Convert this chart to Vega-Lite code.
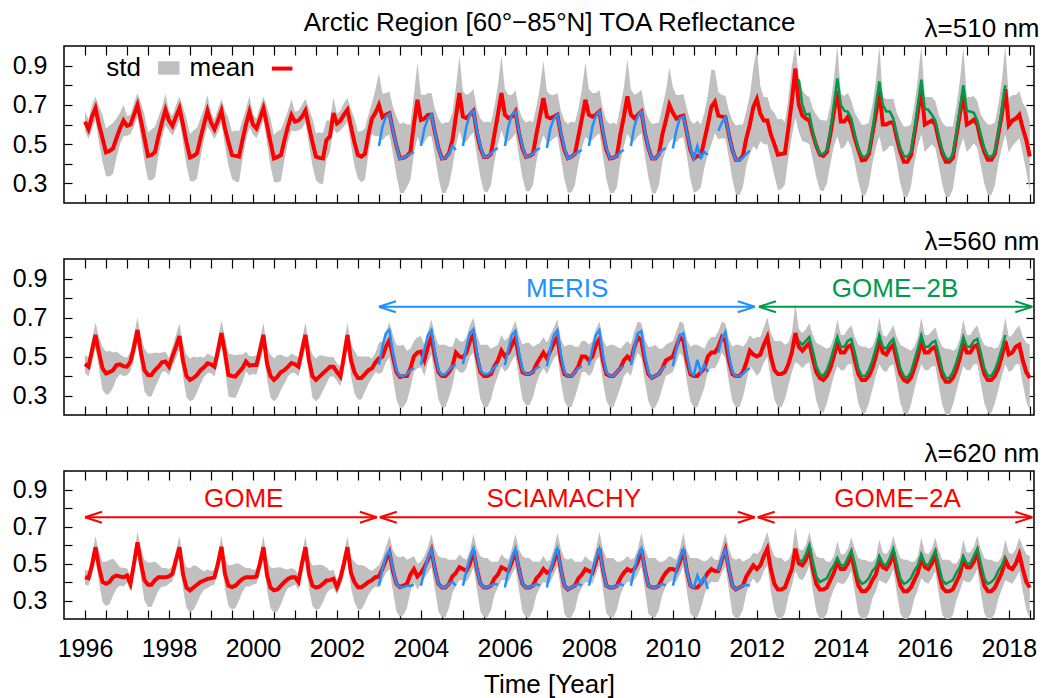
{
"$schema":"https://vega.github.io/schema/vega-lite/v6.json",
"background":"white",
"padding":{"left":11,"top":8,"right":8,"bottom":2},
"config":{"font":"Liberation Sans","view":{"stroke":"#000000","strokeWidth":1.5},
"axis":{"domain":false,"grid":false,"tickColor":"#000000","tickWidth":1.2,"labelFontSize":25,"labelColor":"#000000","titleFontSize":26,"titleFontWeight":"normal","titleColor":"#000000","labelOverlap":false,"labelFlush":false}},
"datasets":{
"main":[
{"t":[1996,1996.083,1996.167,1996.25,1996.333,1996.417,1996.5,1996.583,1996.667,1996.75,1996.833,1996.917],"a":[0.615,0.576,0.64,0.683,0.6,0.53,0.458,0.465,0.478,0.53,0.58,0.62],"sa":[0.05,0.05,0.06,0.06,0.09,0.12,0.12,0.13,0.13,0.1,0.08,0.08],"b":[0.462,0.448,0.53,0.61,0.52,0.44,0.414,0.42,0.43,0.456,0.46,0.45],"sb":[0.045,0.05,0.06,0.065,0.08,0.11,0.11,0.11,0.09,0.07,0.05,0.05],"c":[0.426,0.42,0.49,0.588,0.48,0.4,0.39,0.4,0.426,0.435,0.43,0.426],"sc":[0.04,0.04,0.05,0.06,0.08,0.11,0.12,0.12,0.1,0.07,0.05,0.05]},
{"t":[1997,1997.083,1997.167,1997.25,1997.333,1997.417,1997.5,1997.583,1997.667,1997.75,1997.833,1997.917],"a":[0.593,0.6,0.65,0.7,0.62,0.53,0.44,0.445,0.46,0.54,0.61,0.675],"sa":[0.05,0.05,0.06,0.06,0.09,0.12,0.12,0.13,0.13,0.1,0.08,0.08],"b":[0.448,0.474,0.55,0.636,0.52,0.43,0.405,0.405,0.43,0.448,0.47,0.474],"sb":[0.045,0.05,0.06,0.065,0.08,0.11,0.11,0.11,0.09,0.07,0.05,0.05],"c":[0.435,0.39,0.5,0.615,0.5,0.41,0.385,0.385,0.41,0.426,0.426,0.426],"sc":[0.04,0.04,0.05,0.06,0.08,0.11,0.12,0.12,0.1,0.07,0.05,0.05]},
{"t":[1998,1998.083,1998.167,1998.25,1998.333,1998.417,1998.5,1998.583,1998.667,1998.75,1998.833,1998.917],"a":[0.62,0.593,0.64,0.683,0.6,0.51,0.432,0.44,0.453,0.53,0.6,0.67],"sa":[0.05,0.05,0.06,0.06,0.09,0.12,0.12,0.13,0.13,0.1,0.08,0.08],"b":[0.448,0.5,0.55,0.605,0.48,0.4,0.38,0.39,0.405,0.43,0.445,0.465],"sb":[0.045,0.05,0.06,0.065,0.08,0.11,0.11,0.11,0.09,0.07,0.05,0.05],"c":[0.43,0.444,0.52,0.588,0.444,0.37,0.355,0.37,0.385,0.4,0.408,0.417],"sc":[0.04,0.04,0.05,0.06,0.08,0.11,0.12,0.12,0.1,0.07,0.05,0.05]},
{"t":[1999,1999.083,1999.167,1999.25,1999.333,1999.417,1999.5,1999.583,1999.667,1999.75,1999.833,1999.917],"a":[0.61,0.576,0.62,0.67,0.58,0.51,0.444,0.44,0.436,0.52,0.6,0.666],"sa":[0.05,0.05,0.06,0.06,0.09,0.12,0.12,0.13,0.13,0.1,0.08,0.08],"b":[0.46,0.448,0.53,0.62,0.52,0.405,0.4,0.397,0.42,0.44,0.474,0.453],"sb":[0.045,0.05,0.06,0.065,0.08,0.11,0.11,0.11,0.09,0.07,0.05,0.05],"c":[0.42,0.426,0.5,0.59,0.444,0.38,0.372,0.38,0.4,0.417,0.426,0.426],"sc":[0.04,0.04,0.05,0.06,0.08,0.11,0.12,0.12,0.1,0.07,0.05,0.05]},
{"t":[2000,2000.083,2000.167,2000.25,2000.333,2000.417,2000.5,2000.583,2000.667,2000.75,2000.833,2000.917],"a":[0.6,0.58,0.63,0.683,0.6,0.51,0.427,0.435,0.444,0.52,0.59,0.649],"sa":[0.05,0.05,0.06,0.06,0.09,0.12,0.12,0.13,0.13,0.1,0.08,0.08],"b":[0.456,0.456,0.53,0.61,0.466,0.4,0.38,0.397,0.42,0.43,0.448,0.466],"sb":[0.045,0.05,0.06,0.065,0.08,0.11,0.11,0.11,0.09,0.07,0.05,0.05],"c":[0.426,0.43,0.5,0.588,0.44,0.37,0.355,0.36,0.38,0.4,0.417,0.426],"sc":[0.04,0.04,0.05,0.06,0.08,0.11,0.12,0.12,0.1,0.07,0.05,0.05]},
{"t":[2001,2001.083,2001.167,2001.25,2001.333,2001.417,2001.5,2001.583,2001.667,2001.75,2001.833,2001.917],"a":[0.615,0.62,0.64,0.671,0.59,0.51,0.436,0.43,0.427,0.52,0.54,0.658],"sa":[0.05,0.05,0.06,0.06,0.09,0.12,0.12,0.13,0.13,0.1,0.08,0.08],"b":[0.46,0.448,0.53,0.61,0.483,0.4,0.38,0.397,0.414,0.43,0.448,0.448],"sb":[0.045,0.05,0.06,0.065,0.08,0.11,0.11,0.11,0.09,0.07,0.05,0.05],"c":[0.426,0.4,0.5,0.588,0.444,0.38,0.37,0.375,0.39,0.408,0.41,0.417],"sc":[0.04,0.04,0.05,0.06,0.08,0.11,0.12,0.12,0.1,0.07,0.05,0.05]},
{"t":[2002,2002.083,2002.167,2002.25,2002.333,2002.417,2002.5,2002.583,2002.667,2002.75,2002.833,2002.917],"a":[0.606,0.62,0.65,0.675,0.59,0.51,0.444,0.436,0.45,0.55,0.63,0.66],"sa":[0.05,0.05,0.06,0.06,0.09,0.12,0.12,0.13,0.13,0.1,0.08,0.12],"b":[0.42,0.397,0.5,0.61,0.483,0.42,0.39,0.39,0.41,0.43,0.44,0.47],"sb":[0.045,0.05,0.06,0.065,0.08,0.11,0.11,0.11,0.09,0.07,0.05,0.05],"c":[0.372,0.42,0.5,0.588,0.45,0.4,0.372,0.372,0.385,0.4,0.41,0.426],"sc":[0.04,0.04,0.05,0.06,0.08,0.11,0.12,0.12,0.1,0.07,0.05,0.05]},
{"t":[2003,2003.083,2003.167,2003.25,2003.333,2003.417,2003.5,2003.583,2003.667,2003.75,2003.833,2003.917],"a":[0.7,0.637,0.65,0.658,0.57,0.49,0.427,0.43,0.44,0.46,0.6,0.726],"sa":[0.16,0.12,0.11,0.11,0.12,0.15,0.175,0.18,0.16,0.14,0.15,0.19],"b":[0.49,0.5,0.55,0.585,0.5,0.42,0.395,0.4,0.4,0.44,0.5,0.52],"sb":[0.08,0.08,0.08,0.09,0.11,0.14,0.16,0.16,0.13,0.1,0.08,0.08],"c":[0.43,0.47,0.52,0.56,0.46,0.39,0.372,0.38,0.39,0.44,0.47,0.43],"sc":[0.06,0.06,0.07,0.09,0.11,0.15,0.16,0.16,0.13,0.09,0.07,0.07]},
{"t":[2004,2004.083,2004.167,2004.25,2004.333,2004.417,2004.5,2004.583,2004.667,2004.75,2004.833,2004.917],"a":[0.623,0.63,0.649,0.65,0.56,0.48,0.427,0.43,0.453,0.52,0.64,0.76],"sa":[0.13,0.12,0.11,0.11,0.12,0.15,0.175,0.18,0.16,0.14,0.15,0.19],"b":[0.525,0.48,0.55,0.6,0.5,0.42,0.4,0.4,0.42,0.45,0.52,0.5],"sb":[0.08,0.08,0.08,0.09,0.11,0.14,0.16,0.16,0.13,0.1,0.08,0.08],"c":[0.45,0.48,0.52,0.57,0.47,0.39,0.37,0.37,0.39,0.43,0.45,0.48],"sc":[0.06,0.06,0.07,0.09,0.11,0.15,0.16,0.16,0.13,0.09,0.07,0.07]},
{"t":[2005,2005.083,2005.167,2005.25,2005.333,2005.417,2005.5,2005.583,2005.667,2005.75,2005.833,2005.917],"a":[0.64,0.632,0.65,0.669,0.56,0.48,0.435,0.435,0.45,0.55,0.65,0.76],"sa":[0.13,0.12,0.11,0.11,0.12,0.15,0.175,0.18,0.16,0.14,0.15,0.19],"b":[0.495,0.52,0.58,0.61,0.5,0.42,0.4,0.4,0.41,0.45,0.48,0.53],"sb":[0.08,0.08,0.08,0.09,0.11,0.14,0.16,0.16,0.13,0.1,0.08,0.08],"c":[0.47,0.46,0.5,0.57,0.47,0.39,0.37,0.37,0.38,0.42,0.44,0.48],"sc":[0.06,0.06,0.07,0.09,0.11,0.15,0.16,0.16,0.13,0.09,0.07,0.07]},
{"t":[2006,2006.083,2006.167,2006.25,2006.333,2006.417,2006.5,2006.583,2006.667,2006.75,2006.833,2006.917],"a":[0.65,0.632,0.64,0.666,0.56,0.48,0.435,0.44,0.45,0.55,0.64,0.735],"sa":[0.13,0.12,0.11,0.11,0.12,0.15,0.175,0.18,0.16,0.14,0.15,0.19],"b":[0.5,0.52,0.56,0.595,0.5,0.42,0.41,0.41,0.42,0.46,0.49,0.52],"sb":[0.08,0.08,0.08,0.09,0.11,0.14,0.16,0.16,0.13,0.1,0.08,0.08],"c":[0.47,0.46,0.51,0.57,0.47,0.39,0.37,0.37,0.38,0.42,0.44,0.47],"sc":[0.06,0.06,0.07,0.09,0.11,0.15,0.16,0.16,0.13,0.09,0.07,0.07]},
{"t":[2007,2007.083,2007.167,2007.25,2007.333,2007.417,2007.5,2007.583,2007.667,2007.75,2007.833,2007.917],"a":[0.64,0.632,0.64,0.65,0.55,0.47,0.427,0.435,0.45,0.54,0.63,0.726],"sa":[0.13,0.12,0.11,0.11,0.12,0.15,0.175,0.18,0.16,0.14,0.15,0.19],"b":[0.49,0.53,0.57,0.6,0.48,0.41,0.4,0.4,0.42,0.45,0.5,0.5],"sb":[0.08,0.08,0.08,0.09,0.11,0.14,0.16,0.16,0.13,0.1,0.08,0.08],"c":[0.45,0.46,0.51,0.575,0.47,0.38,0.36,0.37,0.38,0.42,0.44,0.47],"sc":[0.06,0.06,0.07,0.09,0.11,0.15,0.16,0.16,0.13,0.09,0.07,0.07]},
{"t":[2008,2008.083,2008.167,2008.25,2008.333,2008.417,2008.5,2008.583,2008.667,2008.75,2008.833,2008.917],"a":[0.65,0.64,0.65,0.666,0.56,0.47,0.427,0.43,0.44,0.55,0.64,0.743],"sa":[0.13,0.12,0.11,0.11,0.12,0.15,0.175,0.18,0.16,0.14,0.15,0.19],"b":[0.48,0.5,0.56,0.59,0.48,0.41,0.4,0.4,0.42,0.44,0.48,0.5],"sb":[0.08,0.08,0.08,0.09,0.11,0.14,0.16,0.16,0.13,0.1,0.08,0.08],"c":[0.46,0.45,0.51,0.58,0.47,0.38,0.37,0.37,0.38,0.42,0.45,0.47],"sc":[0.06,0.06,0.07,0.09,0.11,0.15,0.16,0.16,0.13,0.09,0.07,0.07]},
{"t":[2009,2009.083,2009.167,2009.25,2009.333,2009.417,2009.5,2009.583,2009.667,2009.75,2009.833,2009.917],"a":[0.65,0.632,0.65,0.666,0.56,0.48,0.427,0.427,0.45,0.55,0.62,0.7],"sa":[0.13,0.12,0.11,0.11,0.12,0.15,0.175,0.18,0.16,0.14,0.15,0.19],"b":[0.48,0.55,0.6,0.58,0.48,0.41,0.39,0.4,0.41,0.44,0.48,0.49],"sb":[0.08,0.08,0.08,0.09,0.11,0.14,0.16,0.16,0.13,0.1,0.08,0.08],"c":[0.46,0.47,0.51,0.575,0.47,0.38,0.37,0.37,0.38,0.42,0.45,0.47],"sc":[0.06,0.06,0.07,0.09,0.11,0.15,0.16,0.16,0.13,0.09,0.07,0.07]},
{"t":[2010,2010.083,2010.167,2010.25,2010.333,2010.417,2010.5,2010.583,2010.667,2010.75,2010.833,2010.917],"a":[0.66,0.63,0.64,0.645,0.56,0.47,0.427,0.44,0.44,0.52,0.6,0.69],"sa":[0.13,0.12,0.11,0.11,0.12,0.15,0.175,0.18,0.16,0.14,0.15,0.19],"b":[0.5,0.55,0.6,0.58,0.48,0.41,0.4,0.4,0.42,0.44,0.5,0.52],"sb":[0.08,0.08,0.08,0.09,0.11,0.14,0.16,0.16,0.13,0.1,0.08,0.08],"c":[0.47,0.46,0.51,0.575,0.46,0.38,0.37,0.37,0.39,0.42,0.45,0.47],"sc":[0.06,0.06,0.07,0.09,0.11,0.15,0.16,0.16,0.13,0.09,0.07,0.07]},
{"t":[2011,2011.083,2011.167,2011.25,2011.333,2011.417,2011.5,2011.583,2011.667,2011.75,2011.833,2011.917],"a":[0.716,0.645,0.64,0.637,0.55,0.47,0.42,0.42,0.44,0.53,0.6,0.69],"sa":[0.16,0.12,0.11,0.11,0.12,0.15,0.175,0.18,0.16,0.14,0.15,0.2],"b":[0.52,0.55,0.6,0.58,0.48,0.41,0.4,0.4,0.42,0.47,0.53,0.51],"sb":[0.08,0.08,0.08,0.09,0.11,0.14,0.16,0.16,0.13,0.1,0.08,0.08],"c":[0.46,0.46,0.52,0.575,0.47,0.38,0.36,0.37,0.38,0.43,0.46,0.49],"sc":[0.06,0.06,0.07,0.09,0.11,0.15,0.16,0.16,0.13,0.09,0.07,0.07]},
{"t":[2012,2012.083,2012.167,2012.25,2012.333,2012.417,2012.5,2012.583,2012.667,2012.75,2012.833,2012.917],"a":[0.73,0.655,0.62,0.62,0.55,0.5,0.446,0.45,0.453,0.58,0.72,0.885],"sa":[0.26,0.14,0.12,0.12,0.13,0.16,0.18,0.18,0.16,0.15,0.18,0.25],"b":[0.5,0.51,0.56,0.6,0.5,0.43,0.41,0.41,0.42,0.46,0.52,0.62],"sb":[0.1,0.09,0.09,0.1,0.12,0.15,0.17,0.17,0.14,0.11,0.1,0.15],"c":[0.47,0.49,0.54,0.58,0.47,0.39,0.36,0.36,0.37,0.42,0.47,0.58],"sc":[0.08,0.08,0.08,0.09,0.12,0.15,0.17,0.17,0.14,0.1,0.09,0.12]},
{"t":[2013,2013.083,2013.167,2013.25,2013.333,2013.417,2013.5,2013.583,2013.667,2013.75,2013.833,2013.917],"a":[0.7,0.645,0.63,0.62,0.55,0.49,0.446,0.44,0.46,0.55,0.66,0.77],"sa":[0.14,0.13,0.12,0.12,0.13,0.16,0.18,0.18,0.16,0.15,0.17,0.23],"b":[0.55,0.53,0.55,0.57,0.49,0.42,0.39,0.38,0.4,0.44,0.5,0.57],"sb":[0.09,0.09,0.09,0.1,0.12,0.15,0.17,0.17,0.14,0.11,0.1,0.12],"c":[0.5,0.49,0.52,0.58,0.47,0.39,0.36,0.36,0.37,0.41,0.45,0.51],"sc":[0.08,0.08,0.08,0.09,0.12,0.15,0.17,0.17,0.14,0.1,0.09,0.11]},
{"t":[2014,2014.083,2014.167,2014.25,2014.333,2014.417,2014.5,2014.583,2014.667,2014.75,2014.833,2014.917],"a":[0.615,0.615,0.64,0.6,0.53,0.47,0.418,0.42,0.45,0.55,0.65,0.77],"sa":[0.14,0.13,0.12,0.12,0.13,0.16,0.18,0.18,0.16,0.15,0.17,0.23],"b":[0.52,0.52,0.55,0.56,0.48,0.41,0.38,0.38,0.4,0.44,0.5,0.58],"sb":[0.09,0.09,0.09,0.1,0.12,0.15,0.17,0.17,0.14,0.11,0.1,0.12],"c":[0.47,0.47,0.5,0.55,0.46,0.38,0.35,0.35,0.37,0.41,0.44,0.52],"sc":[0.08,0.08,0.08,0.09,0.12,0.15,0.17,0.17,0.14,0.1,0.09,0.11]},
{"t":[2015,2015.083,2015.167,2015.25,2015.333,2015.417,2015.5,2015.583,2015.667,2015.75,2015.833,2015.917],"a":[0.6,0.6,0.61,0.61,0.53,0.46,0.41,0.41,0.44,0.55,0.66,0.78],"sa":[0.14,0.13,0.12,0.12,0.13,0.16,0.18,0.18,0.16,0.15,0.17,0.23],"b":[0.52,0.51,0.54,0.56,0.48,0.41,0.38,0.37,0.39,0.44,0.5,0.58],"sb":[0.09,0.09,0.09,0.1,0.12,0.15,0.17,0.17,0.14,0.11,0.1,0.12],"c":[0.48,0.47,0.5,0.56,0.46,0.38,0.35,0.35,0.37,0.41,0.45,0.53],"sc":[0.08,0.08,0.08,0.09,0.12,0.15,0.17,0.17,0.14,0.1,0.09,0.11]},
{"t":[2016,2016.083,2016.167,2016.25,2016.333,2016.417,2016.5,2016.583,2016.667,2016.75,2016.833,2016.917],"a":[0.6,0.61,0.62,0.6,0.52,0.45,0.41,0.41,0.43,0.54,0.65,0.76],"sa":[0.14,0.13,0.12,0.12,0.13,0.16,0.18,0.18,0.16,0.15,0.17,0.23],"b":[0.52,0.52,0.54,0.55,0.47,0.4,0.37,0.37,0.39,0.43,0.49,0.57],"sb":[0.09,0.09,0.09,0.1,0.12,0.15,0.17,0.17,0.14,0.11,0.1,0.12],"c":[0.48,0.47,0.5,0.55,0.45,0.37,0.35,0.35,0.36,0.4,0.44,0.52],"sc":[0.08,0.08,0.08,0.09,0.12,0.15,0.17,0.17,0.14,0.1,0.09,0.11]},
{"t":[2017,2017.083,2017.167,2017.25,2017.333,2017.417,2017.5,2017.583,2017.667,2017.75,2017.833,2017.917],"a":[0.6,0.61,0.625,0.6,0.52,0.46,0.42,0.42,0.45,0.55,0.65,0.78],"sa":[0.14,0.13,0.12,0.12,0.13,0.16,0.18,0.18,0.16,0.15,0.17,0.23],"b":[0.52,0.52,0.55,0.56,0.48,0.41,0.38,0.38,0.4,0.44,0.5,0.58],"sb":[0.09,0.09,0.09,0.1,0.12,0.15,0.17,0.17,0.14,0.11,0.1,0.12],"c":[0.48,0.48,0.51,0.56,0.46,0.38,0.35,0.35,0.37,0.41,0.45,0.52],"sc":[0.08,0.08,0.08,0.09,0.12,0.15,0.17,0.17,0.14,0.1,0.09,0.11]},
{"t":[2018,2018.083,2018.167,2018.25,2018.333,2018.417,2018.5],"a":[0.596,0.62,0.63,0.65,0.58,0.52,0.437],"sa":[0.14,0.13,0.12,0.12,0.13,0.16,0.18],"b":[0.51,0.52,0.55,0.56,0.48,0.42,0.39],"sb":[0.09,0.09,0.09,0.1,0.12,0.15,0.17],"c":[0.48,0.47,0.5,0.55,0.47,0.4,0.37],"sc":[0.08,0.08,0.08,0.09,0.12,0.15,0.17]}
],
"meris":[
{"yr":2003,"t":[2003,2003.083,2003.167,2003.25,2003.333,2003.417,2003.5,2003.583,2003.667,2003.75,2003.833],"a":[0.49,0.59,0.64,0.655,0.57,0.49,0.425,0.43,0.44,0.45,0.46],"b":[0.457,0.55,0.62,0.636,0.52,0.43,0.4,0.4,0.41,0.43,0.44],"c":[0.38,0.47,0.54,0.57,0.47,0.39,0.372,0.372,0.38,0.38,0.385]},
{"yr":2004,"t":[2004,2004.083,2004.167,2004.25,2004.333,2004.417,2004.5,2004.583,2004.667,2004.75,2004.833],"a":[0.49,0.58,0.63,0.65,0.56,0.48,0.425,0.43,0.45,0.49,0.47],"b":[0.457,0.54,0.61,0.636,0.52,0.43,0.405,0.41,0.43,0.45,0.457],"c":[0.38,0.46,0.53,0.575,0.47,0.39,0.37,0.37,0.39,0.4,0.38]},
{"yr":2005,"t":[2005,2005.083,2005.167,2005.25,2005.333,2005.417,2005.5,2005.583,2005.667,2005.75,2005.833],"a":[0.49,0.59,0.65,0.669,0.57,0.49,0.435,0.435,0.45,0.47,0.48],"b":[0.46,0.55,0.62,0.64,0.52,0.43,0.41,0.41,0.42,0.445,0.46],"c":[0.38,0.46,0.53,0.58,0.47,0.39,0.37,0.37,0.38,0.39,0.385]},
{"yr":2006,"t":[2006,2006.083,2006.167,2006.25,2006.333,2006.417,2006.5,2006.583,2006.667,2006.75,2006.833],"a":[0.49,0.59,0.65,0.666,0.57,0.49,0.435,0.44,0.45,0.47,0.48],"b":[0.455,0.54,0.61,0.63,0.52,0.43,0.41,0.41,0.42,0.44,0.45],"c":[0.37,0.46,0.53,0.58,0.47,0.39,0.37,0.37,0.38,0.39,0.38]},
{"yr":2007,"t":[2007,2007.083,2007.167,2007.25,2007.333,2007.417,2007.5,2007.583,2007.667,2007.75,2007.833],"a":[0.48,0.58,0.63,0.65,0.56,0.48,0.427,0.435,0.45,0.46,0.47],"b":[0.45,0.54,0.61,0.635,0.51,0.42,0.4,0.4,0.42,0.44,0.45],"c":[0.37,0.46,0.53,0.58,0.47,0.38,0.36,0.37,0.38,0.39,0.38]},
{"yr":2008,"t":[2008,2008.083,2008.167,2008.25,2008.333,2008.417,2008.5,2008.583,2008.667,2008.75,2008.833],"a":[0.49,0.59,0.645,0.666,0.57,0.48,0.427,0.43,0.44,0.46,0.47],"b":[0.455,0.54,0.61,0.635,0.51,0.42,0.4,0.4,0.42,0.44,0.45],"c":[0.38,0.46,0.53,0.58,0.47,0.38,0.37,0.37,0.38,0.39,0.38]},
{"yr":2009,"t":[2009,2009.083,2009.167,2009.25,2009.333,2009.417,2009.5,2009.583,2009.667,2009.75,2009.833],"a":[0.49,0.59,0.645,0.666,0.57,0.48,0.427,0.427,0.45,0.47,0.48],"b":[0.455,0.55,0.62,0.63,0.51,0.42,0.39,0.4,0.41,0.44,0.45],"c":[0.38,0.47,0.54,0.58,0.47,0.38,0.37,0.37,0.38,0.39,0.38]},
{"yr":2010,"t":[2010,2010.083,2010.167,2010.25,2010.333,2010.417,2010.5,2010.583,2010.667,2010.75,2010.833],"a":[0.478,0.57,0.632,0.64,0.56,0.48,0.427,0.49,0.43,0.46,0.445],"b":[0.45,0.54,0.61,0.62,0.51,0.42,0.405,0.483,0.42,0.457,0.42],"c":[0.38,0.46,0.53,0.575,0.46,0.38,0.372,0.435,0.39,0.426,0.363]},
{"yr":2011,"t":[2011.083,2011.167,2011.25,2011.333,2011.417,2011.5,2011.583,2011.667,2011.75,2011.833],"a":[0.568,0.61,0.637,0.55,0.47,0.42,0.42,0.43,0.45,0.467],"b":[0.52,0.59,0.625,0.51,0.42,0.4,0.4,0.41,0.43,0.44],"c":[0.46,0.53,0.575,0.47,0.38,0.36,0.37,0.38,0.385,0.38]}
],
"g2b":[
{"t":[2013,2013.083,2013.167,2013.25,2013.333,2013.417,2013.5,2013.583,2013.667,2013.75,2013.833,2013.917],"a":[0.83,0.7,0.65,0.655,0.56,0.49,0.45,0.45,0.47,0.57,0.7,0.835],"b":[0.58,0.56,0.58,0.6,0.53,0.45,0.41,0.4,0.43,0.48,0.54,0.6],"c":[0.52,0.51,0.55,0.6,0.51,0.43,0.4,0.41,0.42,0.46,0.49,0.53]},
{"t":[2014,2014.083,2014.167,2014.25,2014.333,2014.417,2014.5,2014.583,2014.667,2014.75,2014.833,2014.917],"a":[0.7,0.67,0.665,0.63,0.55,0.48,0.44,0.435,0.46,0.56,0.7,0.82],"b":[0.55,0.55,0.58,0.59,0.52,0.44,0.4,0.4,0.43,0.48,0.54,0.61],"c":[0.49,0.49,0.53,0.57,0.5,0.42,0.39,0.4,0.42,0.46,0.48,0.54]},
{"t":[2015,2015.083,2015.167,2015.25,2015.333,2015.417,2015.5,2015.583,2015.667,2015.75,2015.833,2015.917],"a":[0.7,0.666,0.666,0.63,0.55,0.48,0.44,0.435,0.46,0.57,0.7,0.828],"b":[0.55,0.54,0.57,0.59,0.52,0.44,0.4,0.39,0.42,0.48,0.54,0.61],"c":[0.5,0.49,0.53,0.58,0.5,0.42,0.39,0.4,0.42,0.46,0.49,0.55]},
{"t":[2016,2016.083,2016.167,2016.25,2016.333,2016.417,2016.5,2016.583,2016.667,2016.75,2016.833,2016.917],"a":[0.68,0.675,0.65,0.62,0.54,0.47,0.43,0.42,0.45,0.55,0.68,0.8],"b":[0.55,0.55,0.57,0.58,0.51,0.43,0.39,0.39,0.42,0.47,0.53,0.6],"c":[0.5,0.49,0.53,0.57,0.49,0.41,0.39,0.4,0.41,0.45,0.48,0.54]},
{"t":[2017,2017.083,2017.167,2017.25,2017.333,2017.417,2017.5,2017.583,2017.667,2017.75,2017.833,2017.917],"a":[0.67,0.666,0.66,0.62,0.55,0.48,0.44,0.435,0.46,0.56,0.68,0.8],"b":[0.55,0.55,0.58,0.59,0.52,0.44,0.4,0.4,0.43,0.48,0.54,0.61],"c":[0.5,0.5,0.54,0.58,0.5,0.42,0.39,0.4,0.42,0.46,0.49,0.54]}
]
},
"vconcat":[
{"width":970,"height":157,
"layer":[
{"data":{"name":"main"},"transform":[{"flatten":["t","a","sa","b","sb","c","sc"]}],
"mark":{"type":"errorband","color":"#c0c0c0","opacity":1,"band":{"opacity":1,"color":"#c0c0c0"}},
"encoding":{"x":{"field":"t","type":"quantitative","scale":{"domain":[1995.5,2018.6],"nice":false,"zero":false},"axis":{"orient":"bottom","values":[1996,1996.5,1997,1997.5,1998,1998.5,1999,1999.5,2000,2000.5,2001,2001.5,2002,2002.5,2003,2003.5,2004,2004.5,2005,2005.5,2006,2006.5,2007,2007.5,2008,2008.5,2009,2009.5,2010,2010.5,2011,2011.5,2012,2012.5,2013,2013.5,2014,2014.5,2015,2015.5,2016,2016.5,2017,2017.5,2018,2018.5],"tickSize":-9,"labels":false,"title":null}},
"y":{"field":"a","type":"quantitative","scale":{"domain":[0.2,1.0],"nice":false,"zero":false,"clamp":true},"axis":{"orient":"left","values":[0.3,0.4,0.5,0.6,0.7,0.8,0.9],"tickSize":-8,"labelPadding":25,"labelExpr":"(round(datum.value*10) % 2 == 1) ? format(datum.value,'.1f') : ''","title":null}},
"yError":{"field":"sa"}}},
{"data":{"name":"main"},"transform":[{"flatten":["t","a","sa","b","sb","c","sc"]}],
"mark":{"type":"line","color":"#ff0000","strokeWidth":4},
"encoding":{"x":{"field":"t","type":"quantitative","axis":{"orient":"top","values":[1996,1996.5,1997,1997.5,1998,1998.5,1999,1999.5,2000,2000.5,2001,2001.5,2002,2002.5,2003,2003.5,2004,2004.5,2005,2005.5,2006,2006.5,2007,2007.5,2008,2008.5,2009,2009.5,2010,2010.5,2011,2011.5,2012,2012.5,2013,2013.5,2014,2014.5,2015,2015.5,2016,2016.5,2017,2017.5,2018,2018.5],"tickSize":-9,"labels":false,"title":"Arctic Region [60°−85°N] TOA Reflectance","titleBaseline":"alphabetic","titleY":-16}},
"y":{"field":"a","type":"quantitative","axis":{"orient":"right","values":[0.3,0.4,0.5,0.6,0.7,0.8,0.9],"tickSize":-8,"labels":false,"title":"λ=510 nm","titleAngle":0,"titleAlign":"right","titleBaseline":"alphabetic","titleX":5,"titleY":-10}}}},
{"data":{"name":"meris"},"transform":[{"flatten":["t","a","b","c"]}],
"mark":{"type":"line","color":"#1e90ff","strokeWidth":2.5},
"encoding":{"x":{"field":"t","type":"quantitative","axis":null},"y":{"field":"a","type":"quantitative","axis":null},"detail":{"field":"yr","type":"nominal"}}},
{"data":{"name":"g2b"},"transform":[{"flatten":["t","a","b","c"]}],
"mark":{"type":"line","color":"#00994c","strokeWidth":2.5},
"encoding":{"x":{"field":"t","type":"quantitative","axis":null},"y":{"field":"a","type":"quantitative","axis":null}}},
{"data":{"values":[{"x":1997.33,"y":0.845,"s":"std"},{"x":2000.04,"y":0.845,"s":"mean"}]},
"mark":{"type":"text","align":"right","baseline":"alphabetic","fontSize":26,"color":"#000000"},
"encoding":{"x":{"field":"x","type":"quantitative","axis":null},"y":{"field":"y","type":"quantitative","axis":null},"text":{"field":"s"}}},
{"data":{"values":[{"x":1997.74,"x2":1998.25,"y":0.854,"y2":0.922}]},
"mark":{"type":"rect","color":"#c0c0c0"},
"encoding":{"x":{"field":"x","type":"quantitative","axis":null},"x2":{"field":"x2"},"y":{"field":"y","type":"quantitative","axis":null},"y2":{"field":"y2"}}},
{"data":{"values":[{"x":2000.45,"x2":2000.94,"y":0.885}]},
"mark":{"type":"rule","color":"#ff0000","strokeWidth":4},
"encoding":{"x":{"field":"x","type":"quantitative","axis":null},"x2":{"field":"x2"},"y":{"field":"y","type":"quantitative","axis":null}}}
],
"resolve":{"axis":{"x":"independent","y":"independent"}}},
{"width":970,"height":156,
"layer":[
{"data":{"name":"main"},"transform":[{"flatten":["t","a","sa","b","sb","c","sc"]}],
"mark":{"type":"errorband","color":"#c0c0c0","opacity":1,"band":{"opacity":1,"color":"#c0c0c0"}},
"encoding":{"x":{"field":"t","type":"quantitative","scale":{"domain":[1995.5,2018.6],"nice":false,"zero":false},"axis":{"orient":"bottom","values":[1996,1996.5,1997,1997.5,1998,1998.5,1999,1999.5,2000,2000.5,2001,2001.5,2002,2002.5,2003,2003.5,2004,2004.5,2005,2005.5,2006,2006.5,2007,2007.5,2008,2008.5,2009,2009.5,2010,2010.5,2011,2011.5,2012,2012.5,2013,2013.5,2014,2014.5,2015,2015.5,2016,2016.5,2017,2017.5,2018,2018.5],"tickSize":-9,"labels":false,"title":null}},
"y":{"field":"b","type":"quantitative","scale":{"domain":[0.2,1.0],"nice":false,"zero":false,"clamp":true},"axis":{"orient":"left","values":[0.3,0.4,0.5,0.6,0.7,0.8,0.9],"tickSize":-8,"labelPadding":25,"labelExpr":"(round(datum.value*10) % 2 == 1) ? format(datum.value,'.1f') : ''","title":null}},
"yError":{"field":"sb"}}},
{"data":{"name":"main"},"transform":[{"flatten":["t","a","sa","b","sb","c","sc"]}],
"mark":{"type":"line","color":"#ff0000","strokeWidth":4},
"encoding":{"x":{"field":"t","type":"quantitative","axis":{"orient":"top","values":[1996,1996.5,1997,1997.5,1998,1998.5,1999,1999.5,2000,2000.5,2001,2001.5,2002,2002.5,2003,2003.5,2004,2004.5,2005,2005.5,2006,2006.5,2007,2007.5,2008,2008.5,2009,2009.5,2010,2010.5,2011,2011.5,2012,2012.5,2013,2013.5,2014,2014.5,2015,2015.5,2016,2016.5,2017,2017.5,2018,2018.5],"tickSize":-9,"labels":false,"title":null}},
"y":{"field":"b","type":"quantitative","axis":{"orient":"right","values":[0.3,0.4,0.5,0.6,0.7,0.8,0.9],"tickSize":-8,"labels":false,"title":"λ=560 nm","titleAngle":0,"titleAlign":"right","titleBaseline":"alphabetic","titleX":5,"titleY":-10}}}},
{"data":{"name":"meris"},"transform":[{"flatten":["t","a","b","c"]}],
"mark":{"type":"line","color":"#1e90ff","strokeWidth":2.5},
"encoding":{"x":{"field":"t","type":"quantitative","axis":null},"y":{"field":"b","type":"quantitative","axis":null},"detail":{"field":"yr","type":"nominal"}}},
{"data":{"name":"g2b"},"transform":[{"flatten":["t","a","b","c"]}],
"mark":{"type":"line","color":"#00994c","strokeWidth":2.5},
"encoding":{"x":{"field":"t","type":"quantitative","axis":null},"y":{"field":"b","type":"quantitative","axis":null}}},
{"data":{"values":[{"x1":2003.0,"x2":2011.95,"y":0.755,"n":"MERIS","lx":2007.48,"ly":0.806},{"x1":2012.05,"x2":2018.56,"y":0.755,"n":"GOME−2B","lx":2015.29,"ly":0.806}]},
"layer":[
{"mark":{"type":"rule","strokeWidth":2},"encoding":{"x":{"field":"x1","type":"quantitative","axis":null},"x2":{"field":"x2"},"y":{"field":"y","type":"quantitative","axis":null},"color":{"field":"n","type":"nominal","scale":{"domain":["MERIS","GOME−2B","GOME","SCIAMACHY","GOME−2A"],"range":["#1e90ff","#00994c","#ff0000","#ff0000","#ff0000"]},"legend":null}}},
{"mark":{"type":"point","shape":"M0,0L3.4,-1.1M0,0L3.4,1.1","filled":false,"size":100,"strokeWidth":2,"opacity":1},"encoding":{"x":{"field":"x1","type":"quantitative","axis":null},"y":{"field":"y","type":"quantitative","axis":null},"color":{"field":"n","type":"nominal","scale":{"domain":["MERIS","GOME−2B","GOME","SCIAMACHY","GOME−2A"],"range":["#1e90ff","#00994c","#ff0000","#ff0000","#ff0000"]},"legend":null}}},
{"mark":{"type":"point","shape":"M0,0L-3.4,-1.1M0,0L-3.4,1.1","filled":false,"size":100,"strokeWidth":2,"opacity":1},"encoding":{"x":{"field":"x2","type":"quantitative","axis":null},"y":{"field":"y","type":"quantitative","axis":null},"color":{"field":"n","type":"nominal","scale":{"domain":["MERIS","GOME−2B","GOME","SCIAMACHY","GOME−2A"],"range":["#1e90ff","#00994c","#ff0000","#ff0000","#ff0000"]},"legend":null}}},
{"mark":{"type":"text","fontSize":26,"align":"center","baseline":"alphabetic"},"encoding":{"x":{"field":"lx","type":"quantitative","axis":null},"y":{"field":"ly","type":"quantitative","axis":null},"text":{"field":"n"},"color":{"field":"n","type":"nominal","scale":{"domain":["MERIS","GOME−2B","GOME","SCIAMACHY","GOME−2A"],"range":["#1e90ff","#00994c","#ff0000","#ff0000","#ff0000"]},"legend":null}}}
]}
],
"resolve":{"axis":{"x":"independent","y":"independent"}}},
{"width":970,"height":148,
"layer":[
{"data":{"name":"main"},"transform":[{"flatten":["t","a","sa","b","sb","c","sc"]}],
"mark":{"type":"errorband","color":"#c0c0c0","opacity":1,"band":{"opacity":1,"color":"#c0c0c0"}},
"encoding":{"x":{"field":"t","type":"quantitative","scale":{"domain":[1995.5,2018.6],"nice":false,"zero":false},"axis":{"orient":"bottom","values":[1996,1996.5,1997,1997.5,1998,1998.5,1999,1999.5,2000,2000.5,2001,2001.5,2002,2002.5,2003,2003.5,2004,2004.5,2005,2005.5,2006,2006.5,2007,2007.5,2008,2008.5,2009,2009.5,2010,2010.5,2011,2011.5,2012,2012.5,2013,2013.5,2014,2014.5,2015,2015.5,2016,2016.5,2017,2017.5,2018,2018.5],"tickSize":-9,"labelPadding":26,"labelExpr":"datum.value % 2 == 0 ? format(datum.value,'d') : ''","title":"Time [Year]","titleBaseline":"alphabetic","titleY":73}},
"y":{"field":"c","type":"quantitative","scale":{"domain":[0.2,1.0],"nice":false,"zero":false,"clamp":true},"axis":{"orient":"left","values":[0.3,0.4,0.5,0.6,0.7,0.8,0.9],"tickSize":-8,"labelPadding":25,"labelExpr":"(round(datum.value*10) % 2 == 1) ? format(datum.value,'.1f') : ''","title":null}},
"yError":{"field":"sc"}}},
{"data":{"name":"main"},"transform":[{"flatten":["t","a","sa","b","sb","c","sc"]}],
"mark":{"type":"line","color":"#ff0000","strokeWidth":4},
"encoding":{"x":{"field":"t","type":"quantitative","axis":{"orient":"top","values":[1996,1996.5,1997,1997.5,1998,1998.5,1999,1999.5,2000,2000.5,2001,2001.5,2002,2002.5,2003,2003.5,2004,2004.5,2005,2005.5,2006,2006.5,2007,2007.5,2008,2008.5,2009,2009.5,2010,2010.5,2011,2011.5,2012,2012.5,2013,2013.5,2014,2014.5,2015,2015.5,2016,2016.5,2017,2017.5,2018,2018.5],"tickSize":-9,"labels":false,"title":null}},
"y":{"field":"c","type":"quantitative","axis":{"orient":"right","values":[0.3,0.4,0.5,0.6,0.7,0.8,0.9],"tickSize":-8,"labels":false,"title":"λ=620 nm","titleAngle":0,"titleAlign":"right","titleBaseline":"alphabetic","titleX":5,"titleY":-10}}}},
{"data":{"name":"meris"},"transform":[{"flatten":["t","a","b","c"]}],
"mark":{"type":"line","color":"#1e90ff","strokeWidth":2.5},
"encoding":{"x":{"field":"t","type":"quantitative","axis":null},"y":{"field":"c","type":"quantitative","axis":null},"detail":{"field":"yr","type":"nominal"}}},
{"data":{"name":"g2b"},"transform":[{"flatten":["t","a","b","c"]}],
"mark":{"type":"line","color":"#00994c","strokeWidth":2.5},
"encoding":{"x":{"field":"t","type":"quantitative","axis":null},"y":{"field":"c","type":"quantitative","axis":null}}},
{"data":{"values":[{"x1":1996.0,"x2":2002.95,"y":0.75,"n":"GOME","lx":1999.78,"ly":0.804},{"x1":2003.02,"x2":2011.95,"y":0.75,"n":"SCIAMACHY","lx":2007.4,"ly":0.804},{"x1":2012.02,"x2":2018.56,"y":0.75,"n":"GOME−2A","lx":2015.35,"ly":0.804}]},
"layer":[
{"mark":{"type":"rule","strokeWidth":2},"encoding":{"x":{"field":"x1","type":"quantitative","axis":null},"x2":{"field":"x2"},"y":{"field":"y","type":"quantitative","axis":null},"color":{"field":"n","type":"nominal","scale":{"domain":["MERIS","GOME−2B","GOME","SCIAMACHY","GOME−2A"],"range":["#1e90ff","#00994c","#ff0000","#ff0000","#ff0000"]},"legend":null}}},
{"mark":{"type":"point","shape":"M0,0L3.4,-1.1M0,0L3.4,1.1","filled":false,"size":100,"strokeWidth":2,"opacity":1},"encoding":{"x":{"field":"x1","type":"quantitative","axis":null},"y":{"field":"y","type":"quantitative","axis":null},"color":{"field":"n","type":"nominal","scale":{"domain":["MERIS","GOME−2B","GOME","SCIAMACHY","GOME−2A"],"range":["#1e90ff","#00994c","#ff0000","#ff0000","#ff0000"]},"legend":null}}},
{"mark":{"type":"point","shape":"M0,0L-3.4,-1.1M0,0L-3.4,1.1","filled":false,"size":100,"strokeWidth":2,"opacity":1},"encoding":{"x":{"field":"x2","type":"quantitative","axis":null},"y":{"field":"y","type":"quantitative","axis":null},"color":{"field":"n","type":"nominal","scale":{"domain":["MERIS","GOME−2B","GOME","SCIAMACHY","GOME−2A"],"range":["#1e90ff","#00994c","#ff0000","#ff0000","#ff0000"]},"legend":null}}},
{"mark":{"type":"text","fontSize":26,"align":"center","baseline":"alphabetic"},"encoding":{"x":{"field":"lx","type":"quantitative","axis":null},"y":{"field":"ly","type":"quantitative","axis":null},"text":{"field":"n"},"color":{"field":"n","type":"nominal","scale":{"domain":["MERIS","GOME−2B","GOME","SCIAMACHY","GOME−2A"],"range":["#1e90ff","#00994c","#ff0000","#ff0000","#ff0000"]},"legend":null}}}
]}
],
"resolve":{"axis":{"x":"independent","y":"independent"}}}
],
"spacing":56,
"bounds":"flush"
}
